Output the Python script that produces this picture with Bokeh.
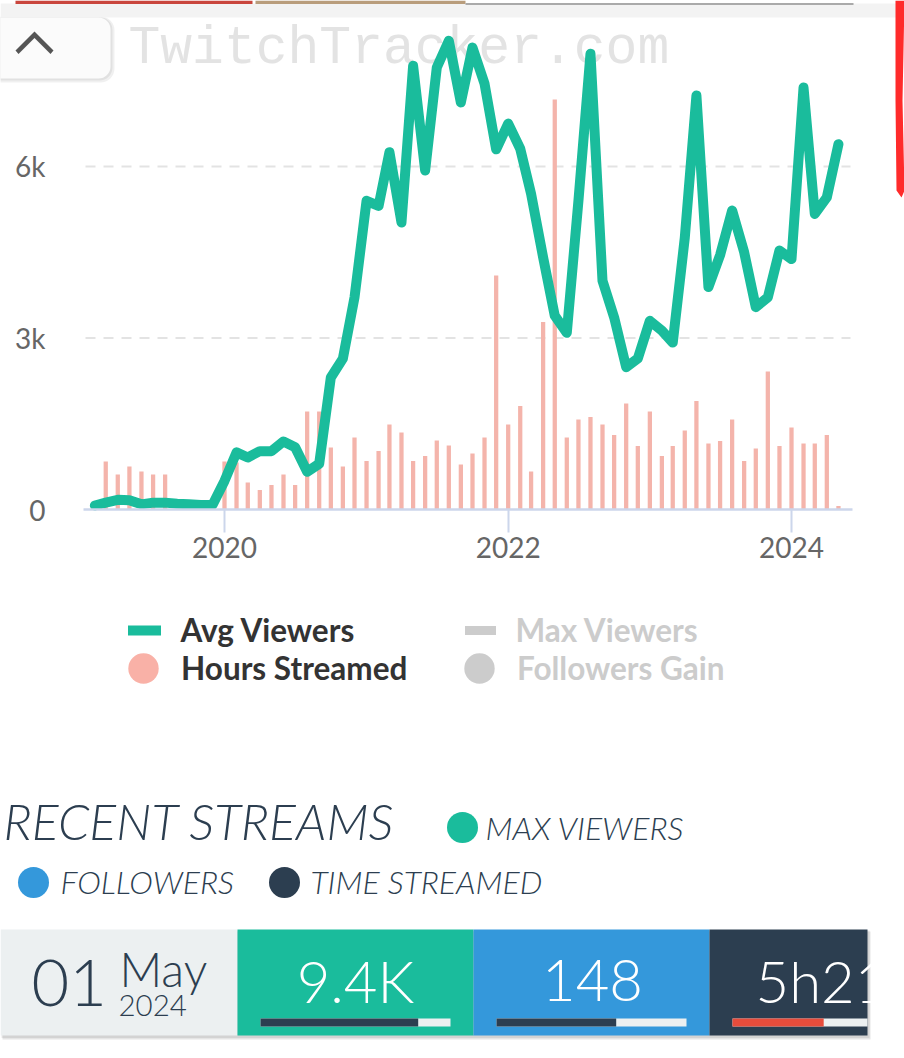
import calendar
import datetime as dt
from bokeh.plotting import figure
from bokeh.models import (Range1d, FixedTicker, DatetimeTickFormatter, NumeralTickFormatter,
                          ColumnDataSource, Legend, LegendItem, BoxAnnotation)
from bokeh.core.properties import value
from bokeh.embed import file_html
from bokeh.resources import INLINE

# ---------------- data ----------------
months = ["2019-02", "2019-03", "2019-04", "2019-05", "2019-06", "2019-07", "2019-08", "2019-09",
          "2019-10", "2019-11", "2019-12",
          "2020-01", "2020-02", "2020-03", "2020-04", "2020-05", "2020-06", "2020-07", "2020-08",
          "2020-09", "2020-10", "2020-11", "2020-12",
          "2021-01", "2021-02", "2021-03", "2021-04", "2021-05", "2021-06", "2021-07", "2021-08",
          "2021-09", "2021-10", "2021-11", "2021-12",
          "2022-01", "2022-02", "2022-03", "2022-04", "2022-05", "2022-06", "2022-07", "2022-08",
          "2022-09", "2022-10", "2022-11", "2022-12",
          "2023-01", "2023-02", "2023-03", "2023-04", "2023-05", "2023-06", "2023-07", "2023-08",
          "2023-09", "2023-10", "2023-11", "2023-12",
          "2024-01", "2024-02", "2024-03", "2024-04", "2024-05"]
avg_viewers = [70, 120, 170, 160, 90, 120, 120, 100, 90, 80, 80,
               500, 1000, 910, 1020, 1020, 1190, 1090, 660, 800, 2310, 2640, 3710,
               5400, 5310, 6250, 5020, 7760, 5930, 7730, 8200, 7120, 8080, 7450, 6300,
               6750, 6310, 5520, 4410, 3390, 3090, 5400, 7970, 4000, 3360, 2490, 2640,
               3300, 3130, 2920, 4750, 7240, 3890, 4450, 5230, 4500, 3540, 3710, 4530,
               4380, 7380, 5170, 5460, 6390]
hours_streamed = [0, 48, 35, 43, 38, 35, 35, 0, 0, 0, 0,
                  48, 47, 27, 19.5, 24.5, 35, 24.5, 98, 98, 62, 43, 72,
                  48.5, 58.5, 85, 77, 48.5, 53.5, 69, 64, 45, 56, 72, 234,
                  85, 103.5, 38, 187.5, 410, 72, 90, 92.5, 85, 74.5, 106, 63.5,
                  98, 53.5, 63.5, 79, 108.5, 66, 68.5, 90, 48.5, 61, 138, 63.5,
                  82, 66, 66, 74.5, 3.5]
year_ticks = ["2020-01-01", "2022-01-01", "2024-01-01"]
viewer_ticks = [0, 3000, 6000]
series_names = ["Avg Viewers", "Hours Streamed", "Max Viewers", "Followers Gain"]
key_labels = ["MAX VIEWERS", "FOLLOWERS", "TIME STREAMED"]
stream_day, stream_month, stream_year = "01", "May", "2024"
stream_values = ["9.4K", "148", "5h21"]
stream_fill = [0.83, 0.63, 0.48]

# ---------------- styling / geometry ----------------
TEAL = "#1abc9c"
BLUE = "#3498db"
NAVY = "#2c3e50"
RED = "#e74c3c"
LIGHT = "#ecf0f1"
PINK = "#f4b4ab"
AXIS = "#ccd6eb"

W, H = 904, 1058
DAY = 86400000.0
PX_PER_DAY = (791 - 224) / 1461.0  # pixels per day
X2020 = 224.0                      # pixel x of 2020-01-01
BASE_Y = 509.0                     # pixel y of the zero line
PX_PER_1000 = 57.17                # pixels per 1000 viewers
NAN = float("nan")


def to_dt(s):
    parts = [int(t) for t in s.split("-")]
    return dt.datetime(parts[0], parts[1], parts[2] if len(parts) > 2 else 1)


def ms(d):
    return calendar.timegm(d.timetuple()) * 1000.0


T2020 = ms(dt.datetime(2020, 1, 1))


def t_at(x):
    return T2020 + (x - X2020) / PX_PER_DAY * DAY


def fs(px):
    return f"{px:.1f}px"


def mid(baseline, size, k=0.39):
    # vertical centre of a text line whose baseline sits at `baseline`
    return baseline - k * size


src = ColumnDataSource(dict(month=[to_dt(m) for m in months], viewers=avg_viewers, hours=hours_streamed))

p = figure(width=W, height=H, x_axis_type="datetime", output_backend="svg", toolbar_location=None,
           x_range=Range1d(t_at(0), t_at(W)),
           y_range=Range1d(-(H - BASE_Y) / PX_PER_1000 * 1000, BASE_Y / PX_PER_1000 * 1000),
           min_border=0)
p.extra_x_ranges = {"px": Range1d(0, W)}
p.extra_y_ranges = {"pxy": Range1d(H, 0), "hours": Range1d(-(H - BASE_Y), BASE_Y)}
p.outline_line_color = None
p.background_fill_color = "white"
p.border_fill_color = "white"
p.grid.visible = False

PX = dict(x_range_name="px", y_range_name="pxy")

# ---- page header decorations ----
p.quad(left=[0], right=[W], top=[3], bottom=[17], fill_color="#f3f3f3", line_color=None, **PX)
p.quad(left=[15, 255, 465], right=[252, 465, 853], top=[0, 0, 2.5], bottom=[3.5, 3.5, 4.5],
       fill_color=["#c9463d", "#b99d7c", "#aaaaaa"], line_color=None, **PX)
p.add_layout(BoxAnnotation(left=-20, right=114, top=16, bottom=82, fill_color="#000000", fill_alpha=0.06,
                           line_color=None, border_radius=14, level="underlay", **PX))
p.add_layout(BoxAnnotation(left=-20, right=112, top=16.5, bottom=80, fill_color="#000000", fill_alpha=0.06,
                           line_color=None, border_radius=13, level="underlay", **PX))
p.add_layout(BoxAnnotation(left=-20, right=110, top=17, bottom=78, fill_color="#fbfbfb", fill_alpha=1,
                           line_color=None, border_radius=12, level="underlay", **PX))
p.patch(x=[15, 34, 53, 50, 34, 18], y=[50, 31, 50, 53.5, 37.5, 53.5], fill_color="#555555",
        line_color=None, **PX)
p.patch(x=[895, 904, 902, 904, 901, 896, 895], y=[0, 0, 100, 190, 197, 190, 100],
        fill_color="#ff2b2b", line_color=None, **PX)
p.text(x=[128], y=[mid(64, 53, 0.3)], text=["TwitchTracker.com"], text_font=value("Liberation Mono"),
       text_font_size=fs(53), text_color="#e3e3e3", text_baseline="middle", **PX)

# ---- chart ----
p.segment(x0=[85, 85], x1=[850, 850], y0=viewer_ticks[1:], y1=viewer_ticks[1:], line_color="#e3e3e3",
          line_width=2, line_dash="10 8", x_range_name="px")
p.vbar(x="month", top="hours", width=11 * DAY, y_range_name="hours", source=src,
       fill_color=PINK, line_color=None)
avg_r = p.line(x="month", y="viewers", source=src, line_color=TEAL, line_width=10,
               line_join="round", line_cap="round")
max_r = p.line(x=[NAN], y=[NAN], line_color="#cccccc", line_width=9, line_cap="round")
hours_r = p.scatter(x=[NAN], y=[NAN], marker="circle", fill_color="#f9b1a7", line_color=None)
foll_r = p.scatter(x=[NAN], y=[NAN], marker="circle", fill_color="#cccccc", line_color=None)

xa = p.xaxis[0]
xa.fixed_location = 0
xa.bounds = (t_at(83), t_at(852))
xa.ticker = FixedTicker(ticks=[ms(to_dt(t)) for t in year_ticks])
xa.formatter = DatetimeTickFormatter(years="%Y", months="%Y", days="%Y", hours="%Y")
xa.axis_line_color = AXIS
xa.axis_line_width = 2.5
xa.major_tick_line_color = AXIS
xa.major_tick_line_width = 2
xa.major_tick_in = 0
xa.major_tick_out = 23
xa.minor_tick_line_color = None
xa.major_label_standoff = 4
xa.major_label_text_font = "Lato"
xa.major_label_text_font_size = fs(28)
xa.major_label_text_color = "#666666"

ya = p.yaxis[0]
ya.fixed_location = t_at(85)
ya.ticker = FixedTicker(ticks=viewer_ticks)
ya.formatter = NumeralTickFormatter(format="0a")
ya.axis_line_color = None
ya.major_tick_line_color = None
ya.minor_tick_line_color = None
ya.major_tick_in = 0
ya.major_tick_out = 0
ya.major_label_standoff = 40
ya.major_label_text_font = "Lato"
ya.major_label_text_font_size = fs(28)
ya.major_label_text_color = "#666666"


# ---- legends ----
GH = 80
DOT_W = 76


def add_legend(label, r, glyph_w, glyph_left, label_left, cy, color):
    lg = Legend(items=[LegendItem(label=label, renderers=[r])],
                location=(glyph_left, H - (cy + GH / 2.0)),
                glyph_width=round(glyph_w), glyph_height=GH,
                label_standoff=max(0, round(label_left - glyph_left - round(glyph_w))),
                padding=0, margin=0, spacing=0, border_line_color=None,
                background_fill_alpha=0, label_text_font="Lato",
                label_text_font_style="bold", label_text_font_size=fs(31.5),
                label_text_color=color, label_height=20)
    p.add_layout(lg)


add_legend(series_names[0], avg_r, 33, 127.5, 180, 630, "#333333")
add_legend(series_names[1], hours_r, DOT_W, 143 - DOT_W / 2.0, 180, 668, "#333333")
add_legend(series_names[2], max_r, 31, 464.5, 516, 630, "#cccccc")
add_legend(series_names[3], foll_r, DOT_W, 479 - DOT_W / 2.0, 516, 668, "#cccccc")

# ---- recent streams ----
LIGHTF = value("Lato Light")
p.text(x=[3], y=[mid(840, 50)], text=["RECENT STREAMS"], text_font=LIGHTF, text_font_style="italic",
       text_font_size=fs(50), text_color=NAVY, text_baseline="middle", **PX)
p.circle(x=[462, 33, 284], y=[827, 882, 882], radius=15.5, fill_color=[TEAL, BLUE, NAVY],
         line_color=None, **PX)
p.text(x=[485, 60, 310], y=[mid(839, 32), mid(893, 32), mid(893, 32)], text=key_labels, text_font=LIGHTF,
       text_font_style="italic", text_font_size=fs(32), text_color=NAVY, text_baseline="middle", **PX)

edges = [0, 237, 473, 709, 867]
p.quad(left=[2], right=[870], top=[931], bottom=[1039], fill_color="#000000", fill_alpha=0.10,
       line_color=None, **PX)
p.quad(left=[1], right=[869], top=[930], bottom=[1037.5], fill_color="#000000", fill_alpha=0.08,
       line_color=None, **PX)
p.quad(left=edges[:-1], right=edges[1:], top=[929] * 4, bottom=[1035] * 4,
       fill_color=[LIGHT, TEAL, BLUE, NAVY], line_color=None, **PX)

bar_left = [e + 23 for e in edges[1:4]]
bar_len = 190
bar_right = [min(b + bar_len, edges[-1]) for b in bar_left]
fill_right = [min(b + f * bar_len, edges[-1]) for b, f in zip(bar_left, stream_fill)]
p.quad(left=bar_left, right=bar_right, top=[1018] * 3, bottom=[1026] * 3, fill_color=LIGHT,
       line_color=None, **PX)
p.quad(left=bar_left, right=fill_right, top=[1018] * 3, bottom=[1026] * 3,
       fill_color=[NAVY, NAVY, RED], line_color=None, **PX)

p.text(x=[31], y=[mid(1008, 65)], text=[stream_day], text_font=LIGHTF, text_font_size=fs(65),
       text_color=NAVY, text_baseline="middle", **PX)
p.text(x=[119], y=[mid(987, 47)], text=[stream_month], text_font=LIGHTF, text_font_size=fs(47),
       text_color=NAVY, text_baseline="middle", **PX)
p.text(x=[118], y=[mid(1017, 29.5)], text=[stream_year], text_font=LIGHTF, text_font_size=fs(29.5),
       text_color=NAVY, text_baseline="middle", **PX)
p.text(x=[355, 592], y=[mid(1003, 58)] * 2, text=stream_values[:2], text_font=LIGHTF,
       text_font_size=fs(58), text_color="white", text_baseline="middle", text_align="center", **PX)
p.text(x=[755], y=[mid(1003, 58)], text=stream_values[2:], text_font=LIGHTF,
       text_font_size=fs(58), text_color="white", text_baseline="middle", **PX)

open("out.html", "w").write(file_html(p, INLINE))
